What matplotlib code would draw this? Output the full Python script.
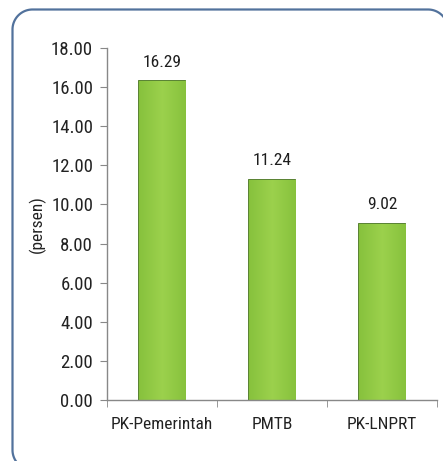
import matplotlib
matplotlib.use("Agg")
import matplotlib.pyplot as plt
from matplotlib.lines import Line2D
from matplotlib.transforms import IdentityTransform
import numpy as np

categories = ["PK-Pemerintah", "PMTB", "PK-LNPRT"]
values = [16.29, 11.24, 9.02]
value_labels = ["16.29", "11.24", "9.02"]
y_ticks = [0, 2, 4, 6, 8, 10, 12, 14, 16, 18]
y_label = "(persen)"

FONT = ["Roboto Condensed", "Liberation Sans Narrow", "Liberation Sans", "DejaVu Sans"]
plt.rcParams["font.family"] = FONT

W, H = 443, 461
fig = plt.figure(figsize=(W / 100, H / 100), dpi=100)
fig.patch.set_facecolor("white")

# rounded frame: left and top edges with rounded corners, running off the canvas
r = 20.0
fl, ft, fr, fb = 12.5, H - 9.5, 448.0, -9.0
t_tl = np.linspace(np.pi, np.pi / 2, 30)
t_tr = np.linspace(np.pi / 2, 0, 30)
t_bl = np.linspace(np.pi, 1.5 * np.pi, 30)
fx = np.concatenate([fl + r + r * np.cos(t_bl)[::-1], fl + r + r * np.cos(t_tl),
                     fr - r + r * np.cos(t_tr), [fr]])
fy = np.concatenate([fb + r + r * np.sin(t_bl)[::-1], ft - r + r * np.sin(t_tl),
                     ft - r + r * np.sin(t_tr), [fb]])
fig.add_artist(Line2D(fx, fy, transform=IdentityTransform(), color="#52729c",
                      linewidth=1.6, solid_capstyle="round", zorder=-1))

ax = fig.add_axes([107 / W, 1 - 400 / H, (437 - 107) / W, (400 - 48) / H])
ax.set_facecolor("none")

x = np.arange(len(categories))
bars = ax.bar(x, values, width=0.42, color="#8cc63f", edgecolor="#4a7720",
              linewidth=1.3, zorder=2)

# soft highlight inside each bar
for b in bars:
    bx, bw, bh = b.get_x(), b.get_width(), b.get_height()
    grad = np.linspace(0, 1, 64)
    shade = 1 - np.abs(grad - 0.5) * 2
    img = np.zeros((1, 64, 4))
    img[..., 0] = 0.53 + 0.08 * shade
    img[..., 1] = 0.76 + 0.06 * shade
    img[..., 2] = 0.24 + 0.06 * shade
    img[..., 3] = 1
    im = ax.imshow(img, extent=(bx, bx + bw, 0, bh), aspect="auto", zorder=2.5,
                   interpolation="bilinear")
    im.set_clip_path(b)

for xi, v, lab in zip(x, values, value_labels):
    ax.text(xi, v + 0.6, lab, ha="center", va="bottom", fontsize=12.5,
            color="#1e1e1e")

ax.set_xlim(-0.5, 2.5)
ax.set_ylim(0, 18)
ax.set_yticks(y_ticks)
ax.set_yticklabels([f"{t:.2f}" for t in y_ticks])
ax.set_xticks(x)
ax.set_xticklabels(categories)
ax.set_xticks([-0.5, 0.5, 1.5, 2.5], minor=True)
ax.tick_params(axis="x", which="major", length=0, pad=12, labelsize=12.5,
               labelcolor="#222222")
ax.tick_params(axis="x", which="minor", length=5, color="#888888", direction="out")
ax.tick_params(axis="y", length=5, color="#888888", pad=5, labelsize=13.5,
               labelcolor="#222222")

for s in ("top", "right"):
    ax.spines[s].set_visible(False)
for s in ("left", "bottom"):
    ax.spines[s].set_color("#888888")
    ax.spines[s].set_linewidth(1.0)

ax.set_ylabel(y_label, fontsize=12.5, color="#222222")
ax.yaxis.set_label_coords(-0.185, 0.5)

fig.savefig("out.png", dpi=100, facecolor="white")
